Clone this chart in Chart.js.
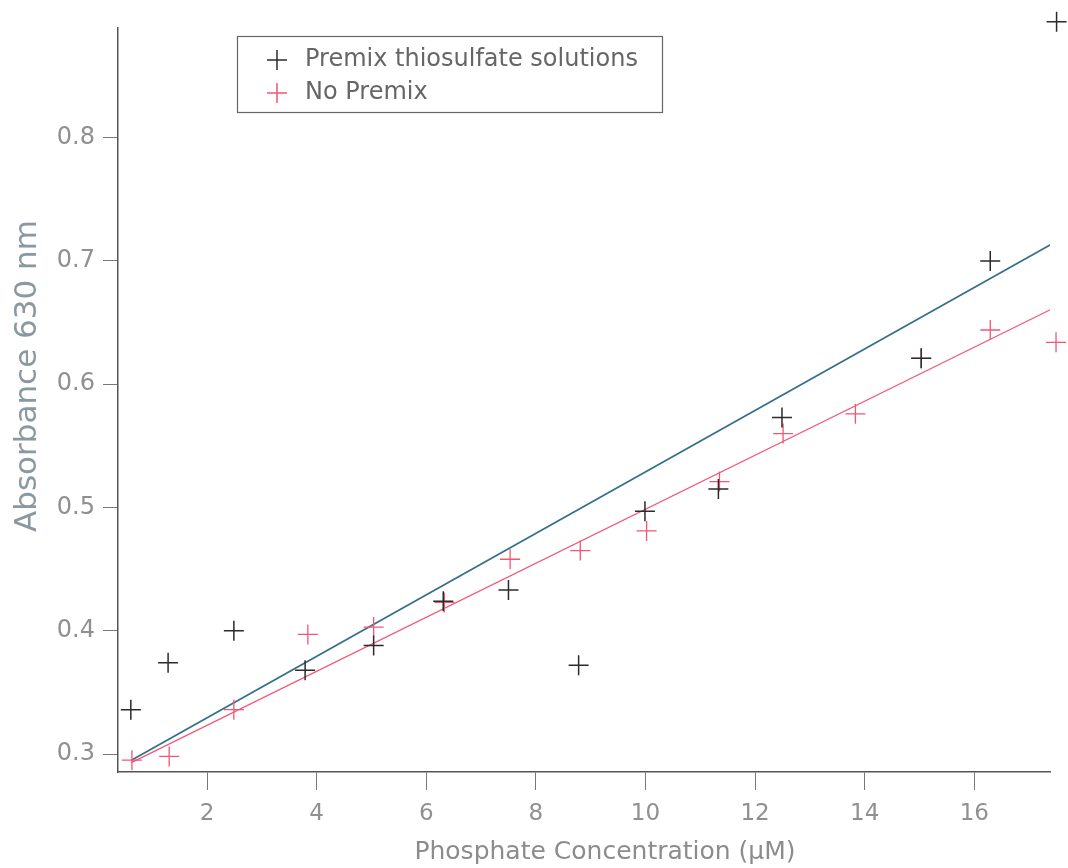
<!DOCTYPE html>
<html>
<head>
<meta charset="utf-8">
<script src="https://cdn.jsdelivr.net/npm/chart.js@4"></script>
<style>
  html, body { margin: 0; padding: 0; background: #fff; }
  #wrap { width: 1068px; height: 868px; }
</style>
</head>
<body>
<div id="wrap"><canvas id="chart" width="1068" height="868"></canvas></div>
<script>
// Absorbance at 630 nm vs phosphate concentration
const premixX = [0.61, 1.29, 2.49, 3.79, 5.04, 6.31, 7.50, 8.78, 9.99, 11.33, 12.49, 15.03, 16.29, 17.50];
const premixY = [0.336, 0.374, 0.400, 0.368, 0.388, 0.424, 0.433, 0.372, 0.497, 0.515, 0.573, 0.621, 0.700, 0.894];
const noPremixX = [0.63, 1.31, 2.49, 3.84, 5.04, 6.33, 7.53, 8.81, 10.02, 11.35, 12.51, 13.83, 15.03, 16.29, 17.49];
const noPremixY = [0.295, 0.298, 0.336, 0.397, 0.403, 0.423, 0.458, 0.465, 0.481, 0.521, 0.560, 0.576, 0.621, 0.644, 0.634];

// fit lines - end points as drawn
const fitX = [0.62, 17.5];
const premixFitY = [0.295, 0.716];
const noPremixFitY = [0.293, 0.663];

const xTicks = [2, 4, 6, 8, 10, 12, 14, 16];
const yTicks = [0.3, 0.4, 0.5, 0.6, 0.7, 0.8];

const xTitle = 'Phosphate Concentration (μM)';
const yTitle = 'Absorbance 630 nm';

const BLACK = '#2b2b2b';
const RED = '#f25673';
const FONT = 'DejaVu Sans';

function toPoints(xs, ys) {
  return xs.map((x, i) => ({ x: x, y: ys[i] }));
}

// legend box inside the plot + axis titles (both sit off-centre in the original)
const extras = {
  id: 'extras',
  afterDraw(chart) {
    const ctx = chart.ctx;
    const items = chart.data.datasets.filter(d => d.label);
    ctx.save();
    ctx.strokeStyle = '#666';
    ctx.lineWidth = 1.2;
    ctx.strokeRect(237.5, 36.5, 425, 76);
    ctx.font = '24px ' + FONT;
    ctx.textBaseline = 'middle';
    items.forEach((d, i) => {
      const y = 60 + i * 33;
      ctx.strokeStyle = d.borderColor;
      ctx.lineWidth = 1.5;
      ctx.beginPath();
      ctx.moveTo(267, y); ctx.lineTo(287, y);
      ctx.moveTo(277, y - 10); ctx.lineTo(277, y + 10);
      ctx.stroke();
      ctx.fillStyle = '#666';
      ctx.fillText(d.label, 305, y);
    });

    // x axis title
    ctx.textAlign = 'center';
    ctx.font = '25px ' + FONT;
    ctx.fillStyle = '#8c8c8c';
    ctx.fillText(xTitle, 605, 852);

    // y axis title
    ctx.translate(36, 376);
    ctx.rotate(-Math.PI / 2);
    ctx.font = '31px ' + FONT;
    ctx.fillStyle = '#8a98a0';
    ctx.textBaseline = 'alphabetic';
    ctx.fillText(yTitle, 0, 0);
    ctx.restore();
  }
};

new Chart(document.getElementById('chart'), {
  type: 'scatter',
  data: {
    datasets: [
      {
        label: 'Premix thiosulfate solutions',
        data: toPoints(premixX, premixY),
        pointStyle: 'cross',
        pointRadius: 10,
        borderColor: BLACK,
        borderWidth: 1.5,
        clip: false
      },
      {
        label: 'No Premix',
        data: toPoints(noPremixX, noPremixY),
        pointStyle: 'cross',
        pointRadius: 10,
        borderColor: RED,
        borderWidth: 1.3,
        clip: false
      },
      {
        label: '',
        type: 'line',
        data: toPoints(fitX, premixFitY),
        borderColor: '#35708c',
        borderWidth: 1.8,
        pointRadius: 0
      },
      {
        label: '',
        type: 'line',
        data: toPoints(fitX, noPremixFitY),
        borderColor: RED,
        borderWidth: 1.2,
        pointRadius: 0
      }
    ]
  },
  options: {
    responsive: false,
    animation: false,
    layout: { padding: { top: 28, right: 18, left: 0, bottom: 0 } },
    plugins: {
      legend: { display: false },
      tooltip: { enabled: false }
    },
    scales: {
      x: {
        type: 'linear',
        min: 0.376,
        max: 17.38,
        afterBuildTicks: s => { s.ticks = xTicks.map(v => ({ value: v })); },
        afterFit: s => { s.height = 96; },
        grid: { drawOnChartArea: false, tickLength: 18, color: '#777' },
        border: { color: '#555', width: 1.5 },
        ticks: { color: '#909090', font: { family: FONT, size: 23 }, padding: 10, maxRotation: 0, autoSkip: false }
      },
      y: {
        min: 0.2854,
        max: 0.889,
        afterBuildTicks: s => { s.ticks = yTicks.map(v => ({ value: v })); },
        afterFit: s => { s.width = 118; },
        grid: { drawOnChartArea: false, tickLength: 15, color: '#777' },
        border: { color: '#555', width: 1.5 },
        ticks: {
          color: '#909090',
          font: { family: FONT, size: 24 },
          padding: 8,
          callback: v => v.toFixed(1)
        }
      }
    }
  },
  plugins: [extras]
});
</script>
</body>
</html>
